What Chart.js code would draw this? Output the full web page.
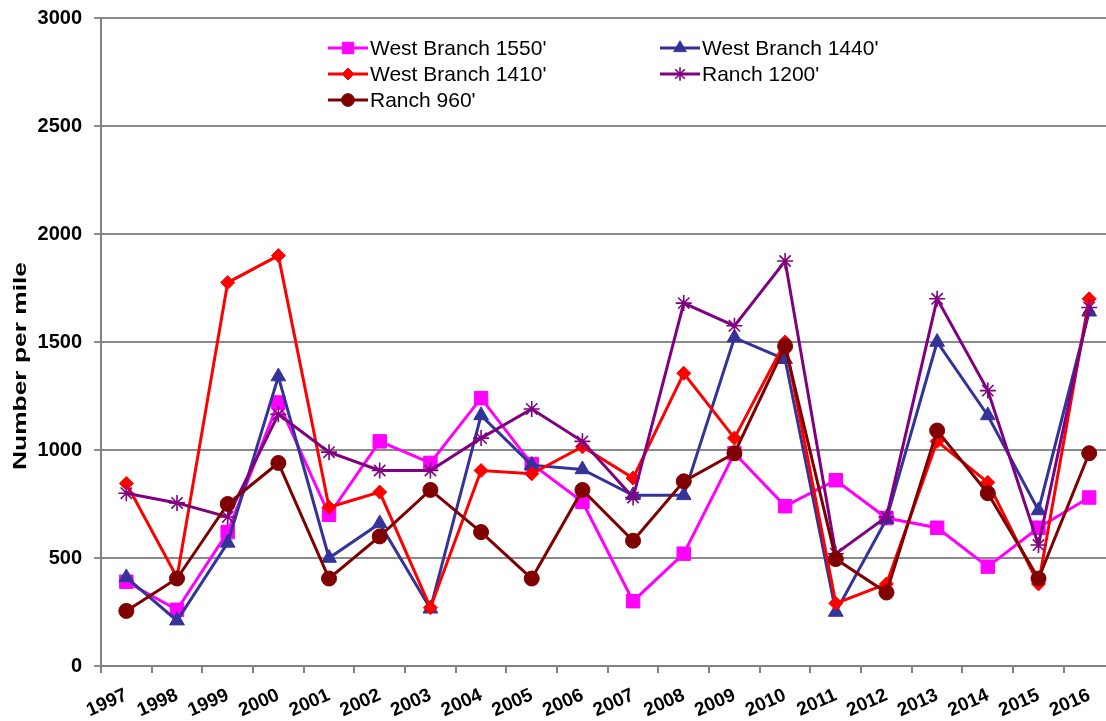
<!DOCTYPE html>
<html>
<head>
<meta charset="utf-8">
<script src="https://cdn.jsdelivr.net/npm/chart.js@4/dist/chart.umd.min.js"></script>
<style>
  html, body { margin: 0; padding: 0; background: #ffffff; overflow: hidden; }
  #wrap { width: 1125px; height: 721px; }
</style>
</head>
<body>
<div id="wrap"><canvas id="c" width="1125" height="721"></canvas></div>
<script>
// ---- Data ----
const years = ['1997','1998','1999','2000','2001','2002','2003','2004','2005','2006',
               '2007','2008','2009','2010','2011','2012','2013','2014','2015','2016'];
const westBranch1550 = [390,260,620,1220,700,1040,940,1240,935,760,300,520,985,740,860,685,640,460,640,780];
const westBranch1440 = [410,210,570,1340,500,660,265,1160,930,910,790,790,1520,1420,250,680,1500,1160,720,1640];
const westBranch1410 = [845,410,1775,1900,735,805,270,905,890,1015,870,1355,1055,1500,290,380,1040,850,380,1700];
const ranch1200      = [800,755,690,1165,990,905,905,1055,1190,1040,780,1680,1575,1875,520,690,1700,1275,560,1660];
const ranch960       = [255,405,750,940,405,600,815,620,405,815,580,855,985,1480,495,340,1090,800,405,985];
const seriesLabels = ["West Branch 1550'", "West Branch 1440'", "West Branch 1410'", "Ranch 1200'", "Ranch 960'"];
const yTicks = [0, 500, 1000, 1500, 2000, 2500, 3000];
const yTitle = 'Number per mile';

function ds(label, data, color, style, radius, bw, order) {
  return {
    label: label, data: data,
    borderColor: color, backgroundColor: color,
    borderWidth: 3, tension: 0, fill: false,
    pointStyle: style, pointRadius: radius,
    pointBackgroundColor: color, pointBorderColor: color, pointBorderWidth: bw,
    order: order
  };
}

const datasets = [
  ds(seriesLabels[0], westBranch1550, '#FF00FF', 'rect', 9.5, 1, 5),
  ds(seriesLabels[1], westBranch1440, '#333399', 'triangle', 8.5, 1, 4),
  ds(seriesLabels[2], westBranch1410, '#FF0000', 'rectRot', 7, 1, 3),
  ds(seriesLabels[3], ranch1200, '#800080', 'star', 8, 1.6, 2),
  ds(seriesLabels[4], ranch960, '#800000', 'circle', 7.5, 1, 1)
];

const insideLegend = {
  id: 'insideLegend',
  afterDraw(chart) {
    const ctx = chart.ctx;
    const pos = [[328, 48], [660, 48], [328, 74], [660, 74], [328, 100]];
    chart.data.datasets.forEach((d, i) => {
      const x = pos[i][0], y = pos[i][1];
      ctx.save();
      ctx.strokeStyle = d.borderColor;
      ctx.lineWidth = 3;
      ctx.beginPath();
      ctx.moveTo(x, y);
      ctx.lineTo(x + 40, y);
      ctx.stroke();
      ctx.fillStyle = d.pointBackgroundColor;
      ctx.strokeStyle = d.pointBorderColor;
      ctx.lineWidth = d.pointBorderWidth;
      Chart.helpers.drawPoint(ctx, {
        pointStyle: d.pointStyle, radius: d.pointRadius * 0.85,
        borderWidth: d.pointBorderWidth, rotation: 0
      }, x + 20, y);
      ctx.fillStyle = '#000000';
      ctx.font = '21px "Liberation Sans", Arial, sans-serif';
      ctx.textAlign = 'left';
      ctx.textBaseline = 'middle';
      ctx.fillText(d.label, x + 42, y + 1);
      ctx.restore();
    });
  }
};

const yTitlePlugin = {
  id: 'yTitle',
  afterDraw(chart) {
    const ctx = chart.ctx;
    ctx.save();
    ctx.font = 'bold 19px "Liberation Sans", Arial, sans-serif';
    ctx.fillStyle = '#000000';
    const w = ctx.measureText(yTitle).width;
    ctx.translate(21, 366);
    ctx.rotate(-Math.PI / 2);
    ctx.scale(208 / w, 1);
    ctx.textAlign = 'center';
    ctx.textBaseline = 'middle';
    ctx.fillText(yTitle, 0, 0);
    ctx.restore();
  }
};

new Chart(document.getElementById('c'), {
  type: 'line',
  data: { labels: years, datasets: datasets },
  plugins: [insideLegend, yTitlePlugin],
  options: {
    responsive: false,
    animation: false,
    layout: { padding: { top: 18, left: 0, right: 0, bottom: 0 } },
    plugins: { legend: { display: false }, tooltip: { enabled: false } },
    scales: {
      x: {
        type: 'category',
        offset: true,
        grid: { offset: true, drawOnChartArea: false, drawTicks: true, tickLength: 7, color: '#808080', lineWidth: 2 },
        border: { color: '#808080', width: 2 },
        ticks: {
          autoSkip: false, minRotation: 24, maxRotation: 24, padding: 11,
          color: '#000000', font: { family: '"Liberation Sans", Arial, sans-serif', size: 19, weight: 'bold' }
        },
        afterFit(scale) { scale.height = 55; }
      },
      y: {
        min: 0, max: 3000,
        afterBuildTicks(scale) { scale.ticks = yTicks.map(v => ({ value: v })); },
        grid: { color: '#8a8a8a', lineWidth: 2, tickLength: 7 },
        border: { color: '#808080', width: 2 },
        ticks: {
          padding: 12, color: '#000000',
          callback: (v) => String(v),
          font: { family: '"Liberation Sans", Arial, sans-serif', size: 20, weight: 'bold' }
        },
        afterFit(scale) { scale.width = 101; scale.paddingTop = 0; scale.paddingBottom = 0; }
      }
    }
  }
});
</script>
</body>
</html>
